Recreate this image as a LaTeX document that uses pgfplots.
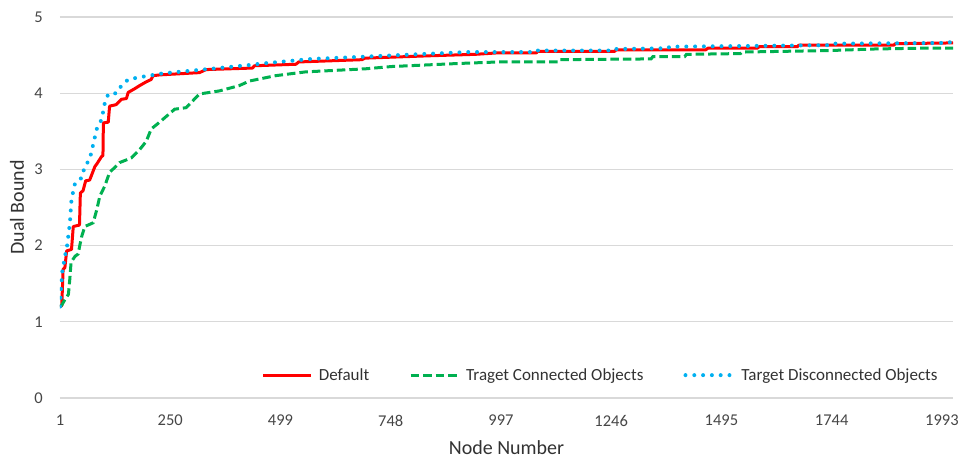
\documentclass[border=0pt]{standalone}
\usepackage{fontspec}
\setmainfont{Carlito}
\usepackage{pgfplots}
\pgfplotsset{compat=1.18}
\definecolor{cred}{RGB}{255,0,0}
\definecolor{cgreen}{RGB}{0,176,80}
\definecolor{cblue}{RGB}{0,176,240}
\definecolor{cgrid}{RGB}{217,217,217}
\definecolor{ctext}{RGB}{70,70,70}
\definecolor{clabel}{RGB}{50,50,50}
\begin{document}
\begin{tikzpicture}
\begin{axis}[
  scale only axis,
  width=893pt, height=381pt,
  xmin=1, xmax=2018, ymin=0, ymax=5,
  xtick={1,250,499,748,997,1246,1495,1744,1993},
  ytick={0,1,2,3,4,5},
  /pgf/number format/assume math mode=true,
  /pgf/number format/1000 sep={},
  ymajorgrids,
  grid style={cgrid, line width=1.3pt},
  axis line style={draw=none},
  major tick length=0pt,
  tick style={draw=none},
  ticklabel style={font=\fontsize{16.5}{19}\selectfont, text=ctext},
  yticklabel style={inner sep=0pt, anchor=east, xshift=-17pt},
  xticklabel style={inner sep=0pt, anchor=north, yshift=-17pt},
  xlabel={Node Number},
  ylabel={Dual Bound},
  label style={font=\fontsize{20}{24}\selectfont, text=clabel},
  xlabel style={at={(axis description cs:0.5,0)}, anchor=base, yshift=-56pt, inner sep=0pt},
  ylabel style={at={(axis description cs:0,0.5)}, anchor=base, yshift=36pt, inner sep=0pt},
  legend columns=3,
  legend style={draw=none, fill=none, at={(0.605,0.06)}, anchor=center,
    font=\fontsize{17}{20}\selectfont, text=clabel,
    /tikz/every odd column/.append style={column sep=5pt},
    /tikz/every even column/.append style={column sep=39pt},
    nodes={inner sep=1pt}},
  legend image code/.code={\draw[#1] (0pt,0pt) -- (48pt,0pt);},
]
\addplot[cred, line width=3pt, line join=round] coordinates {
(1,1.20)(5,1.21)(8,1.69)(12,1.71)(16,1.93)(27,1.95)(31,2.25)(45,2.27)(47,2.69)(53,2.72)(59,2.85)(68,2.86)(80,3.04)(84,3.07)(95,3.17)(98,3.18)(99,3.61)(110,3.62)(113,3.83)(128,3.85)(140,3.92)(151,3.93)(155,4.01)(170,4.06)(181,4.10)(196,4.15)(207,4.18)(211,4.23)(226,4.24)(316,4.27)(331,4.31)(436,4.33)(440,4.36)(534,4.38)(540,4.41)(683,4.44)(690,4.46)(830,4.49)(939,4.51)(991,4.53)(1077,4.53)(1080,4.55)(1254,4.55)(1257,4.57)(1460,4.57)(1464,4.59)(1576,4.59)(1580,4.61)(1666,4.61)(1670,4.63)(1884,4.63)(1888,4.65)(2018,4.66)
};
\addlegendentry{Default}
\addplot[cgreen, line width=3pt, dash pattern=on 8.5pt off 4pt] coordinates {
(1,1.20)(5,1.22)(12,1.29)(20,1.36)(23,1.55)(26,1.78)(35,1.86)(42,1.89)(46,2.01)(50,2.12)(57,2.25)(76,2.30)(84,2.47)(91,2.65)(102,2.78)(113,2.96)(136,3.09)(162,3.15)(181,3.26)(196,3.37)(207,3.53)(226,3.62)(260,3.79)(286,3.81)(316,3.99)(361,4.03)(406,4.10)(429,4.16)(488,4.23)(556,4.28)(691,4.32)(750,4.35)(901,4.39)(991,4.41)(1126,4.41)(1130,4.44)(1336,4.45)(1340,4.48)(1412,4.48)(1416,4.51)(1538,4.52)(1542,4.54)(1740,4.56)(1840,4.58)(1936,4.59)(2018,4.59)
};
\addlegendentry{Traget Connected Objects}
\addplot[cblue, line width=4pt, line cap=round, dash pattern=on 0pt off 8.8pt] coordinates {
(1,1.20)(3,1.40)(6,1.65)(12,1.85)(17,2.0)(21,2.18)(24,2.35)(27,2.61)(35,2.82)(50,2.89)(57,3.04)(68,3.13)(76,3.33)(84,3.53)(91,3.60)(97,3.70)(100,3.83)(110,3.99)(128,4.00)(140,4.10)(155,4.18)(181,4.21)(233,4.26)(324,4.31)(429,4.37)(458,4.39)(570,4.45)(654,4.47)(766,4.50)(924,4.54)(1077,4.54)(1080,4.56)(1254,4.56)(1257,4.58)(1374,4.59)(1378,4.61)(1734,4.63)(1740,4.65)(2004,4.66)(2012,4.67)(2018,4.71)
};
\addlegendentry{Target Disconnected Objects}
\coordinate (BL) at (rel axis cs:0,0);
\coordinate (TR) at (rel axis cs:1,1);
\end{axis}
\pgfresetboundingbox
\path[use as bounding box] ([xshift=-60pt,yshift=-60pt]BL) rectangle ([xshift=6pt,yshift=17pt]TR);
\end{tikzpicture}
\end{document}
